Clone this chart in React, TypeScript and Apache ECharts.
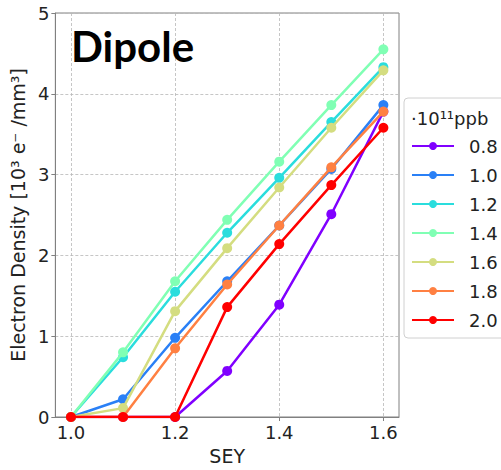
import React, { useEffect, useRef } from "react";
import * as echarts from "echarts";

const seyValues = [1.0, 1.1, 1.2, 1.3, 1.4, 1.5, 1.6];
const xTickValues = [1.0, 1.2, 1.4, 1.6];
const seriesNames = ["0.8", "1.0", "1.2", "1.4", "1.6", "1.8", "2.0"];
const seriesColors = ["#8000ff", "#2a80f6", "#2adddd", "#80ffb4", "#d4dd80", "#ff8042", "#ff0000"];
const d08 = [0, 0, 0, 0.57, 1.39, 2.51, 3.78];
const d10 = [0, 0.22, 0.98, 1.68, 2.37, 3.07, 3.86];
const d12 = [0, 0.74, 1.55, 2.28, 2.96, 3.65, 4.33];
const d14 = [0, 0.8, 1.68, 2.44, 3.16, 3.86, 4.55];
const d16 = [0, 0.11, 1.31, 2.09, 2.84, 3.58, 4.29];
const d18 = [0, 0, 0.85, 1.64, 2.37, 3.09, 3.78];
const d20 = [0, 0, 0, 1.36, 2.14, 2.87, 3.58];
const allData = [d08, d10, d12, d14, d16, d18, d20];

export default function App() {
  const ref = useRef<HTMLDivElement>(null);
  useEffect(() => {
    if (!ref.current) return;
    const chart = echarts.init(ref.current, undefined, { renderer: "svg" });
    const font = "DejaVu Sans";
    chart.setOption({
      animation: false,
      backgroundColor: "#ffffff",
      grid: {
        left: 52,
        right: 102,
        top: 13,
        bottom: 47,
        show: true,
        borderColor: "#808080",
        borderWidth: 1,
        backgroundColor: "transparent",
      },
      xAxis: {
        type: "value",
        min: 0.97,
        max: 1.63,
        name: "SEY",
        nameLocation: "middle",
        nameGap: 29,
        nameTextStyle: { fontFamily: font, fontSize: 19, color: "#222" },
        axisLine: { show: true, lineStyle: { color: "#808080" } },
        axisTick: { show: true, length: 4, customValues: xTickValues, lineStyle: { color: "#808080" } },
        axisLabel: {
          customValues: xTickValues,
          formatter: (v: number) => v.toFixed(1),
          fontFamily: font,
          fontSize: 18,
          color: "#222",
          margin: 6,
        },
        splitLine: { show: true, lineStyle: { color: "#b8b8b8", type: [3, 2], width: 0.8 } },
      },
      yAxis: {
        type: "value",
        min: 0,
        max: 5,
        interval: 1,
        name: "Electron Density [10³ e⁻ /mm³]",
        nameLocation: "middle",
        nameRotate: 90,
        nameGap: 25,
        nameTextStyle: { fontFamily: font, fontSize: 19, color: "#222" },
        axisLine: { show: true, lineStyle: { color: "#808080" } },
        axisTick: { show: true, length: 4, lineStyle: { color: "#808080" } },
        axisLabel: { fontFamily: font, fontSize: 18, color: "#222", margin: 6 },
        splitLine: { show: true, lineStyle: { color: "#b8b8b8", type: [3, 2], width: 0.8 } },
      },
      legend: {
        orient: "vertical",
        left: 411,
        top: 136,
        padding: 0,
        itemWidth: 42,
        itemHeight: 10,
        itemGap: 9,
        data: seriesNames,
        textStyle: { fontFamily: font, fontSize: 18, color: "#222", lineHeight: 20, padding: [0, 0, 0, 10] },
      },
      graphic: [
        {
          type: "rect",
          z: 1,
          shape: { x: 404, y: 98, width: 120, height: 240, r: 4 },
          style: { fill: "#ffffff", stroke: "#d0d0d0", lineWidth: 1 },
        },
        {
          type: "text",
          z: 2,
          x: 411,
          y: 118,
          style: {
            text: "·10¹¹ppb",
            fontFamily: font,
            fontSize: 18,
            fill: "#222",
            verticalAlign: "middle",
          },
        },
        {
          type: "text",
          z: 10,
          x: 71,
          y: 46,
          style: {
            text: "Dipole",
            fontFamily: "Lato",
            fontWeight: "bold",
            fontSize: 42,
            fill: "#000",
            verticalAlign: "middle",
          },
        },
      ],
      series: allData.map((vals, i) => ({
        type: "line",
        name: seriesNames[i],
        data: vals.map((v, j) => [seyValues[j], v]),
        symbol: "circle",
        symbolSize: 10,
        color: seriesColors[i],
        lineStyle: { width: 2.5, color: seriesColors[i] },
        itemStyle: { color: seriesColors[i] },
        z: 3 + i,
      })),
    });
    return () => chart.dispose();
  }, []);
  return <div ref={ref} style={{ width: 501, height: 470, position: "absolute", left: 0, top: 0 }} />;
}
